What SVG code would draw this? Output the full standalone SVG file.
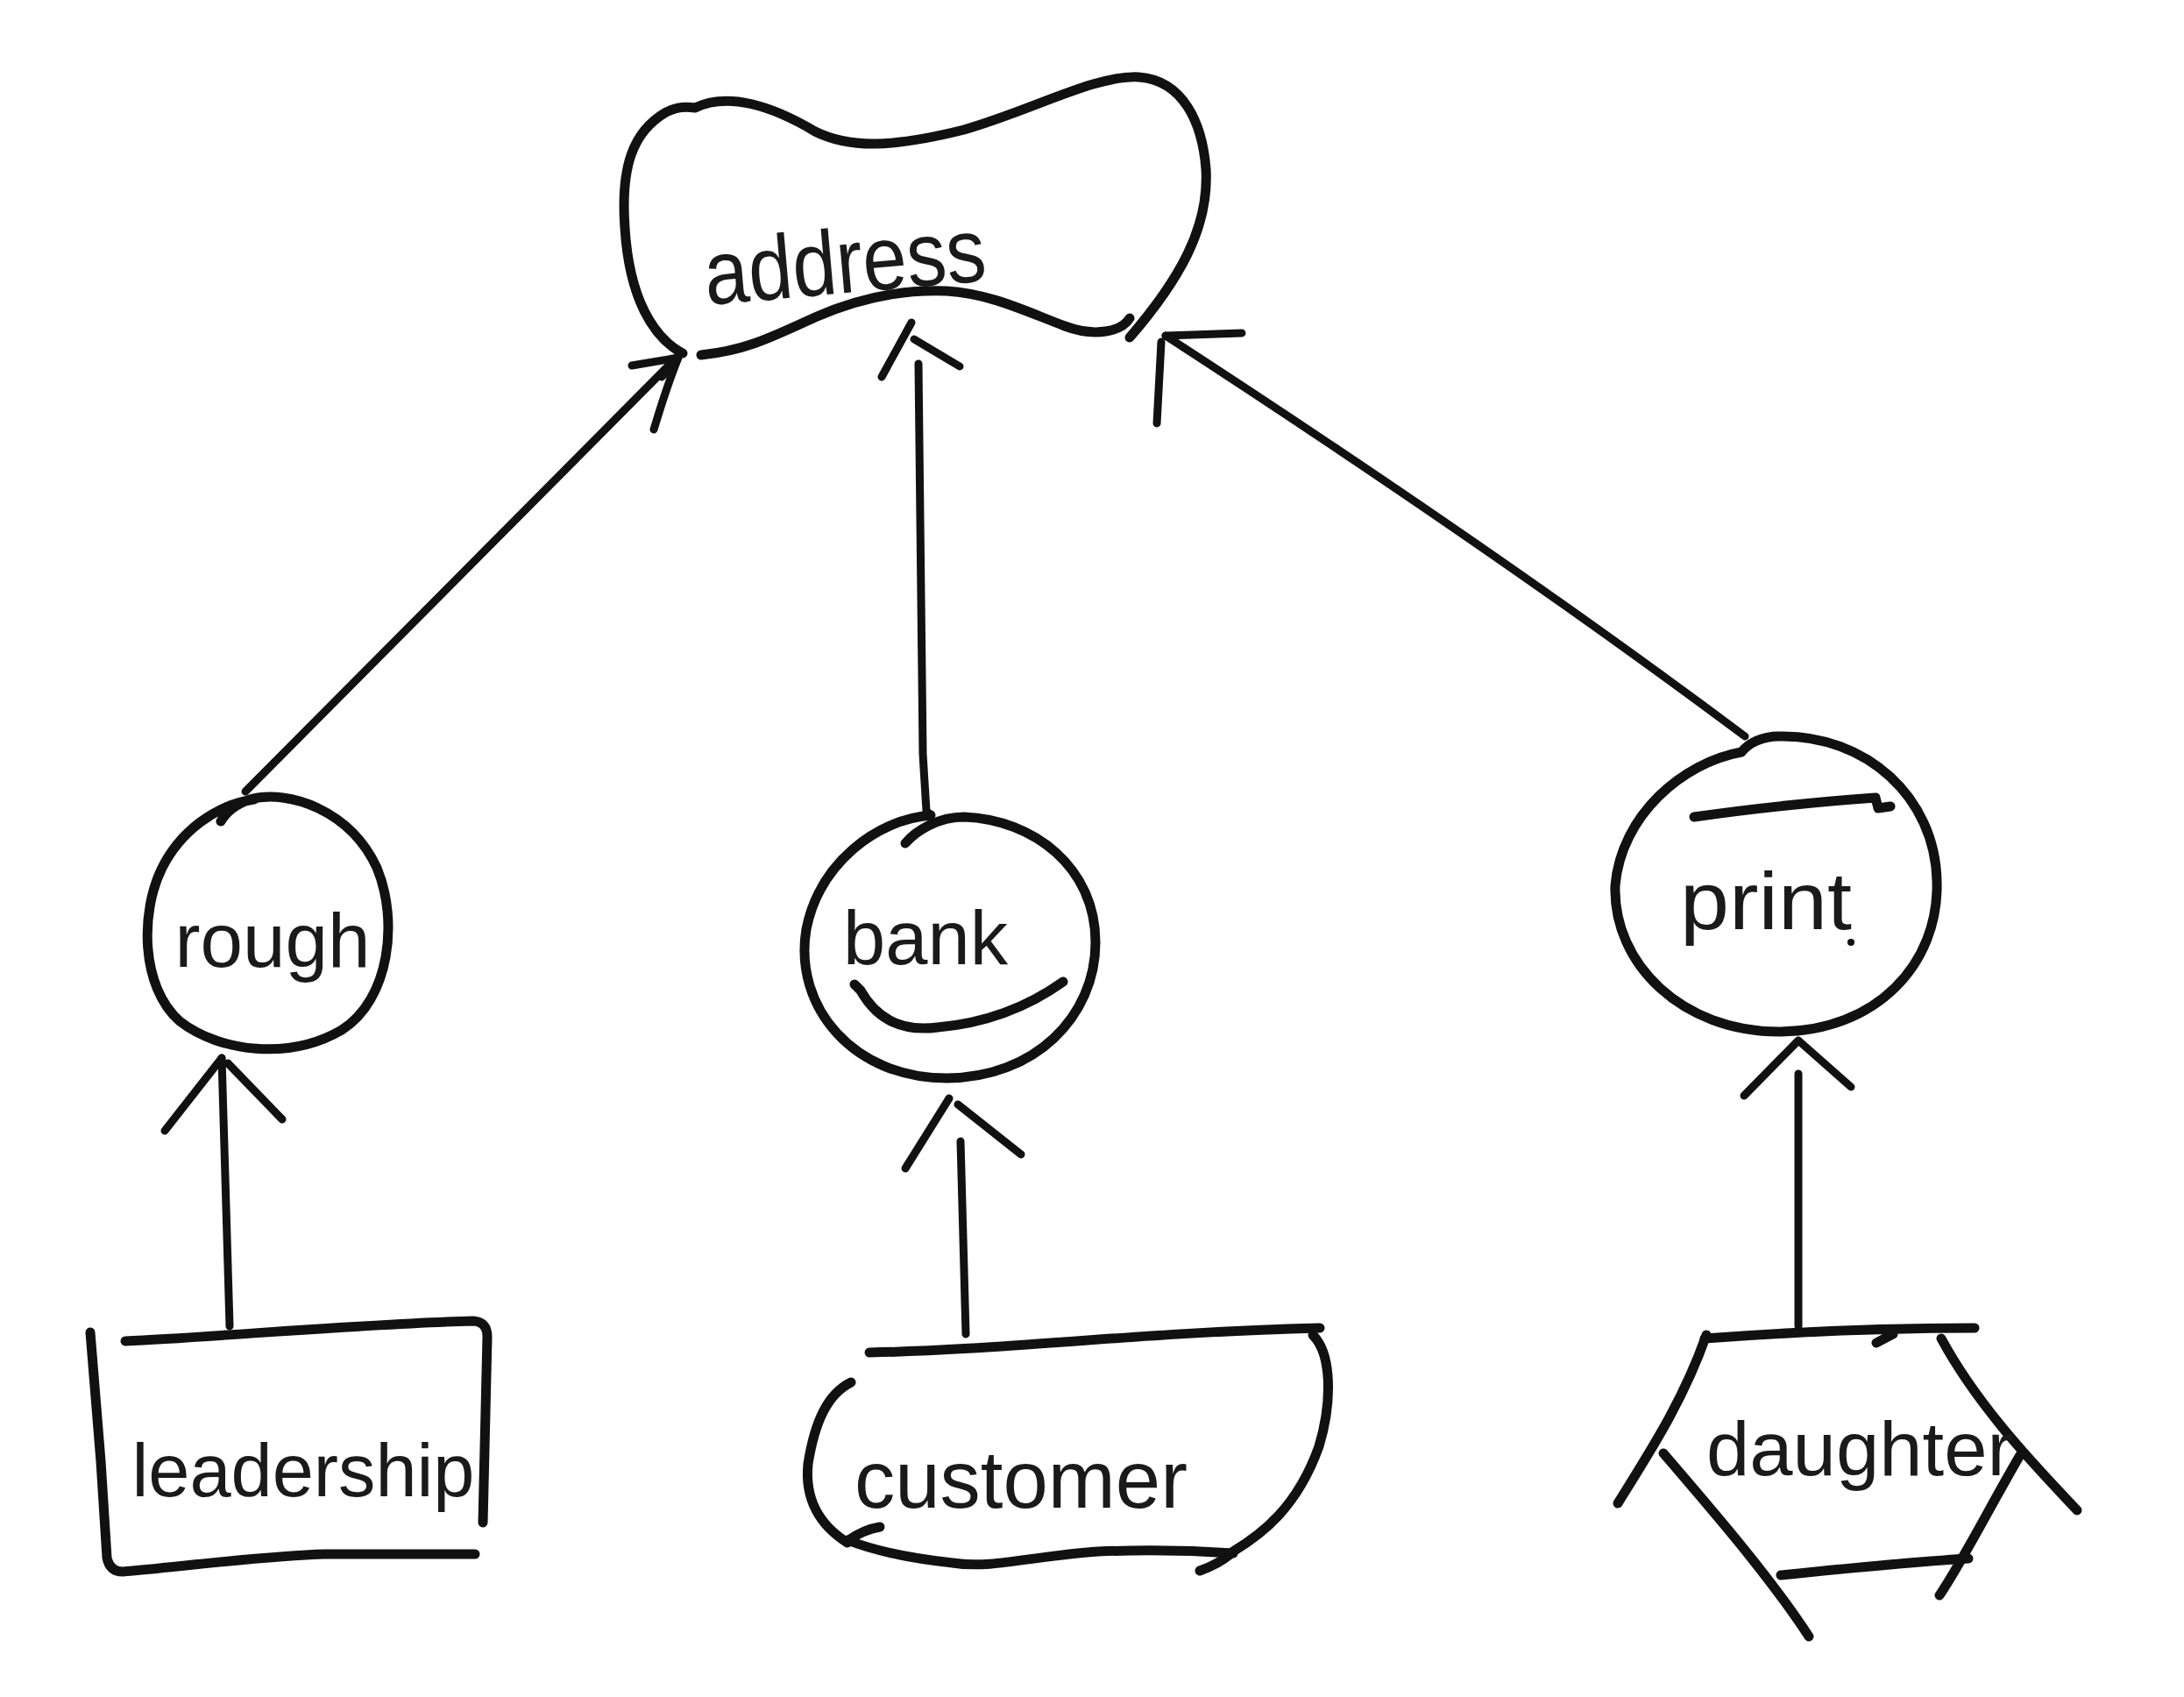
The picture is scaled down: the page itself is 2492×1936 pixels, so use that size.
<svg xmlns="http://www.w3.org/2000/svg" width="2492" height="1936" viewBox="0 0 2492 1936">
<style>
.o{fill:none;stroke:#111;stroke-width:11;stroke-linecap:round;stroke-linejoin:round}
.c{fill:none;stroke:#111;stroke-width:9;stroke-linecap:round;stroke-linejoin:round}
.t{font-family:"Liberation Sans",Arial,sans-serif;fill:#1a1a1a;text-anchor:middle}
</style>
<rect width="2492" height="1936" fill="#fff"/>
<g id="connectors">
<path class="c" d="M280,903 L762,418"/>
<path class="c" d="M774,408 L721,417 M774,408 C765,430 755,460 746,490 M774,408 L755,430"/>
<path class="c" d="M1048,415 L1053,860 L1057,925 L1062,930"/>
<path class="c" d="M1006,430 L1040,368 M1043,387 L1095,418"/>
<path class="c" d="M1991,840 Q1710,630 1330,383"/>
<path class="c" d="M1330,383 L1417,380 M1325,390 L1320,483"/>
<path class="c" d="M262,1513 L253,1207"/>
<path class="c" d="M253,1207 L188,1290 M260,1213 L322,1277"/>
<path class="c" d="M1102,1522 L1096,1302"/>
<path class="c" d="M1083,1253 L1033,1333 M1093,1260 L1165,1317"/>
<path class="c" d="M2052,1513 L2052,1225"/>
<path class="c" d="M2052,1187 L1990,1250 M2052,1187 L2112,1240"/>
</g>
<g id="address">
<path class="o" d="M779,403 C745,385 718,340 713,260 C708,190 722,150 760,128 Q775,120 793,123 C830,105 880,120 930,150 C970,170 1020,168 1100,148 C1180,125 1250,85 1300,88 C1350,92 1372,140 1376,193 C1380,260 1345,320 1289,385"/>
<path class="o" d="M800,405 C850,400 880,385 930,362 C980,340 1030,330 1080,332 C1130,335 1170,355 1215,372 C1250,385 1280,378 1289,363"/>
<text class="t" x="967" y="334" font-size="104" textLength="322" lengthAdjust="spacingAndGlyphs" transform="rotate(-5 967 334)">address</text>
</g>
<g id="rough">
<path class="o" d="M252,937 Q262,920 285,912 C330,900 400,925 430,990 C455,1050 445,1140 390,1175 C330,1210 250,1200 205,1165 C160,1125 160,1040 185,990 C205,950 245,918 290,912"/>
<text class="t" x="311" y="1103" font-size="87" textLength="223" lengthAdjust="spacingAndGlyphs">rough</text>
</g>
<g id="bank">
<path class="o" d="M1062,930 C1000,935 935,985 920,1060 C905,1150 975,1230 1080,1230 C1180,1230 1250,1160 1250,1075 C1250,990 1180,935 1100,932 C1070,932 1045,948 1033,962"/>
<path class="o" d="M975,1123 L982,1130 Q1010,1180 1070,1172 Q1150,1165 1213,1120"/>
<text class="t" x="1056" y="1100" font-size="87" textLength="188" lengthAdjust="spacingAndGlyphs">bank</text>
</g>
<g id="print">
<path class="o" d="M1987,858 C1920,870 1850,930 1843,1010 C1840,1100 1920,1177 2030,1177 C2140,1177 2213,1100 2210,1005 C2208,910 2130,838 2030,840 C2010,840 1995,848 1987,858"/>
<path class="o" d="M1933,932 Q2030,918 2140,910 L2143,922 L2157,920"/>
<text class="t" x="2015" y="1060" font-size="92" textLength="196" lengthAdjust="spacingAndGlyphs">print</text>
<circle cx="2112" cy="1075" r="4" fill="#111"/>
</g>
<g id="leadership">
<path class="o" d="M143,1530 C250,1525 420,1510 540,1507 Q556,1508 556,1525 L551,1737"/>
<path class="o" d="M103,1520 L115,1667 L122,1777 Q125,1793 140,1793 C200,1788 300,1775 370,1773 L542,1773"/>
<text class="t" x="346" y="1707" font-size="85" textLength="391" lengthAdjust="spacingAndGlyphs">leadership</text>
</g>
<g id="customer">
<path class="o" d="M992,1543 C1150,1540 1300,1520 1506,1515"/>
<path class="o" d="M1498,1523 C1520,1545 1520,1600 1505,1650 C1480,1720 1440,1750 1407,1770 C1395,1782 1380,1788 1369,1792"/>
<path class="o" d="M1407,1772 C1350,1768 1300,1768 1253,1770 C1180,1775 1130,1790 1087,1783 C1040,1778 1000,1770 967,1757"/>
<path class="o" d="M971,1577 C945,1590 930,1620 922,1670 C918,1710 935,1740 967,1760 M967,1758 Q985,1745 1004,1742"/>
<text class="t" x="1165" y="1720" font-size="92" textLength="380" lengthAdjust="spacingAndGlyphs">customer</text>
</g>
<g id="daughter">
<path class="o" d="M1945,1527 C2040,1520 2150,1515 2253,1515 M2141,1532 L2160,1522"/>
<path class="o" d="M1947,1523 C1920,1600 1880,1660 1846,1715"/>
<path class="o" d="M2215,1527 C2260,1610 2330,1680 2370,1723"/>
<path class="o" d="M1898,1658 C1960,1730 2020,1800 2064,1867"/>
<path class="o" d="M2305,1660 C2270,1720 2240,1780 2213,1820"/>
<path class="o" d="M2032,1797 C2100,1790 2180,1782 2246,1778"/>
<text class="t" x="2122" y="1683" font-size="87" textLength="350" lengthAdjust="spacingAndGlyphs">daughter</text>
</g>
</svg>
